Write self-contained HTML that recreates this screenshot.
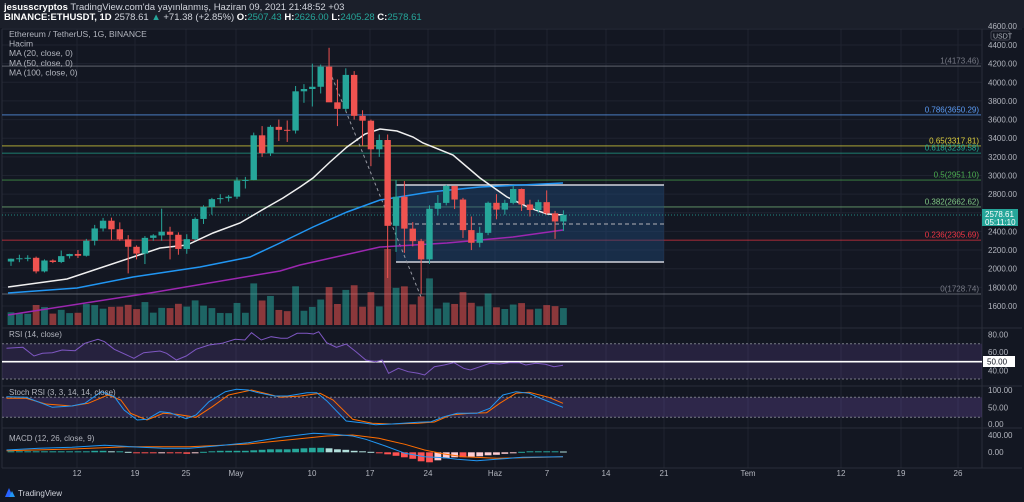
<!DOCTYPE html>
<html><head><meta charset="utf-8">
<style>
html,body{margin:0;padding:0;background:#131722;width:1024px;height:502px;overflow:hidden;font-family:"Liberation Sans",sans-serif;}
svg{display:block}
</style></head>
<body>
<svg id="c" width="1024" height="502" xmlns="http://www.w3.org/2000/svg" font-family="Liberation Sans, sans-serif">
<rect width="1024" height="502" fill="#131722"/>
<rect width="1024" height="28" fill="#1b1f2a"/>
<text x="4" y="10" font-size="9.5" fill="#ffffff"><tspan font-weight="bold">jesusscryptos</tspan><tspan fill="#d1d4dc"> TradingView.com'da yayınlanmış, Haziran 09, 2021 21:48:52 +03</tspan></text>
<text x="4" y="20" font-size="9.5" fill="#ffffff"><tspan font-weight="bold">BINANCE:ETHUSDT, 1D</tspan><tspan fill="#d1d4dc"> 2578.61 </tspan><tspan fill="#26a69a">▲</tspan><tspan fill="#d1d4dc"> +71.38 (+2.85%) </tspan><tspan font-weight="bold">O:</tspan><tspan fill="#26a69a">2507.43 </tspan><tspan font-weight="bold">H:</tspan><tspan fill="#26a69a">2626.00 </tspan><tspan font-weight="bold">L:</tspan><tspan fill="#26a69a">2405.28 </tspan><tspan font-weight="bold">C:</tspan><tspan fill="#26a69a">2578.61</tspan></text>
<g id="g"></g>
</svg>
<script>
var G=document.getElementById('g'),s='';
function Y(p){return 45+(4400-p)*0.09321;}
var X0=11,DX=8.37;
var vx=[77,135,186,236,312,370,428,495,547,606,664,748,841,901,958];
vx.forEach(function(x){s+='<line x1="'+x+'" y1="29" x2="'+x+'" y2="468" stroke="#1f2330" stroke-width="1"/>';});
for(var p=1600;p<=4400;p+=200){var y=Y(p);s+='<line x1="2" y1="'+y+'" x2="982" y2="'+y+'" stroke="#1f2330"/>';}
[29,328,386,428,468].forEach(function(y){s+='<line x1="2" y1="'+y+'" x2="1022" y2="'+y+'" stroke="#2a2e39"/>';});
s+='<line x1="982" y1="29" x2="982" y2="468" stroke="#2a2e39"/>';
s+='<line x1="2" y1="29" x2="2" y2="468" stroke="#2a2e39"/>';
var fib=[[4173.46,'1(4173.46)','#787b86'],[3650.29,'0.786(3650.29)','#5b9cf6'],[3317.81,'0.65(3317.81)','#e0d33c'],[3239.58,'0.618(3239.58)','#22ab94'],[2951.10,'0.5(2951.10)','#4caf50'],[2662.62,'0.382(2662.62)','#81c784'],[2305.69,'0.236(2305.69)','#f23645'],[1728.74,'0(1728.74)','#787b86']];
fib.forEach(function(f){var y=Y(f[0]);s+='<line x1="2" y1="'+y+'" x2="981" y2="'+y+'" stroke="'+f[2]+'" stroke-opacity="0.6" stroke-width="1.2"/>';
s+='<text x="979" y="'+(y-2.5)+'" font-size="8" text-anchor="end" fill="'+f[2]+'">'+f[1]+'</text>';});
s+='<rect x="396" y="185" width="268" height="77" fill="#1e4a78" fill-opacity="0.45"/>';
s+='<line x1="396" y1="185" x2="664" y2="185" stroke="#d1d4dc" stroke-width="1.6"/><line x1="396" y1="262" x2="664" y2="262" stroke="#d1d4dc" stroke-width="1.6"/>';
s+='<line x1="408" y1="224" x2="664" y2="224" stroke="#9598a1" stroke-dasharray="4,3" stroke-width="1.2"/>';
s+='<line x1="332" y1="77" x2="421" y2="297" stroke="#9598a1" stroke-dasharray="3,3" stroke-width="1"/>';
s+='<line x1="2" y1="215" x2="982" y2="215" stroke="#26a69a" stroke-dasharray="1,2" stroke-opacity="0.8"/>';
var D=[[2077,2110,2030,2107],[2107,2150,2070,2112],[2112,2145,2080,2117],[2117,2130,1950,1971],[1971,2100,1960,2088],[2088,2100,2060,2072],[2072,2195,2060,2135],[2135,2160,2110,2158],[2158,2200,2115,2139],[2139,2320,2130,2300],[2300,2470,2250,2432],[2432,2545,2400,2515],[2515,2548,2310,2423],[2423,2497,2300,2315],[2315,2360,1950,2235],[2235,2250,2100,2162],[2162,2350,2050,2331],[2331,2370,2300,2357],[2357,2644,2300,2397],[2397,2450,2100,2364],[2364,2390,2150,2212],[2212,2370,2160,2317],[2317,2550,2300,2534],[2534,2680,2480,2662],[2662,2760,2580,2746],[2746,2800,2700,2757],[2757,2790,2720,2773],[2773,2980,2750,2945],[2945,2985,2860,2952],[2952,3460,2950,3431],[3431,3530,3200,3240],[3240,3540,3210,3522],[3522,3600,3370,3490],[3490,3590,3360,3482],[3482,3960,3450,3903],[3903,3980,3780,3928],[3928,4200,3740,3952],[3952,4190,3880,4168],[4168,4370,3790,3785],[3785,4030,3530,3715],[3715,4150,3690,4079],[4079,4120,3600,3640],[3640,3700,3320,3588],[3588,3600,3100,3281],[3281,3440,3200,3381],[3381,3440,1900,2460],[2460,2950,2180,2772],[2772,2940,2170,2430],[2430,2500,2240,2296],[2296,2320,1730,2100],[2100,2680,2050,2643],[2643,2790,2570,2706],[2706,2900,2680,2888],[2888,2890,2640,2742],[2742,2760,2330,2414],[2414,2560,2200,2278],[2278,2450,2230,2385],[2385,2720,2360,2707],[2707,2800,2530,2634],[2634,2740,2580,2706],[2706,2890,2690,2855],[2855,2860,2620,2689],[2689,2740,2560,2630],[2630,2740,2600,2714],[2714,2840,2580,2594],[2594,2620,2320,2507],[2507,2626,2405,2578.61]];
var vb=325;
D.forEach(function(d,i){var x=X0+i*DX,up=d[3]>=d[0];var h=Math.min(76,10+Math.abs(d[3]-d[0])*0.05+(d[1]-d[2])*0.015);
s+='<rect x="'+(x-3.4)+'" y="'+(vb-h)+'" width="6.8" height="'+h+'" fill="'+(up?'#26a69a':'#ef5350')+'" fill-opacity="0.55"/>';});
function pl(pts,c,w){s+='<polyline fill="none" stroke="'+c+'" stroke-width="'+(w||1.5)+'" points="'+pts.map(function(p){return p[0]+','+p[1]}).join(' ')+'"/>';}
pl([[8,315],[150,293],[280,271],[300,265],[380,247],[447,243],[513,237],[563,230]],'#9c27b0',1.5);
pl([[8,293],[77,288],[133,277],[200,267],[250,257],[280,243],[313,227],[347,212],[380,200],[430,192],[480,187],[563,183]],'#2196f3',1.5);
pl([[8,287],[67,279],[133,257],[160,248],[187,245],[213,233],[240,223],[262,210],[283,198],[300,187],[313,178],[330,162],[347,147],[365,134],[380,129],[397,131],[413,137],[423,143],[453,155],[480,178],[507,197],[530,208],[547,214],[563,215]],'#f0f0f0',1.5);
D.forEach(function(d,i){var x=X0+i*DX,up=d[3]>=d[0],c=up?'#26a69a':'#ef5350';
var t=Y(Math.max(d[0],d[3])),b=Y(Math.min(d[0],d[3]));if(b-t<1)b=t+1;
s+='<line x1="'+x+'" y1="'+Y(d[1])+'" x2="'+x+'" y2="'+Y(d[2])+'" stroke="'+c+'" stroke-width="1"/>';
s+='<rect x="'+(x-3.2)+'" y="'+t+'" width="6.4" height="'+(b-t)+'" fill="'+c+'"/>';});
for(var p=1600;p<=4400;p+=200){s+='<text x="988" y="'+(Y(p)+3)+'" font-size="8" fill="#b2b5be">'+p+'.00</text>';}
s+='<text x="988" y="29" font-size="8" fill="#b2b5be">4600.00</text>';
s+='<rect x="991" y="31" width="19" height="9" rx="2" fill="#131722" stroke="#434651"/><text x="993" y="38.5" font-size="7" fill="#b2b5be">USDT</text>';
s+='<rect x="982" y="209" width="36" height="17" fill="#26a69a"/><text x="985" y="217" font-size="8" fill="#fff">2578.61</text><text x="985" y="225" font-size="8" fill="#fff">05:11:10</text>';
var lg=['Ethereum / TetherUS, 1G, BINANCE','Hacim','MA (20, close, 0)','MA (50, close, 0)','MA (100, close, 0)'];
lg.forEach(function(t,i){s+='<text x="9" y="'+(37+i*9.6)+'" font-size="8.5" fill="#b2b5be">'+t+'</text>';});
s+='<rect x="2" y="343.7" width="980" height="35.3" fill="#7e57c2" fill-opacity="0.18"/>';
s+='<line x1="2" y1="343.7" x2="982" y2="343.7" stroke="#787b86" stroke-dasharray="2,2"/><line x1="2" y1="379" x2="982" y2="379" stroke="#787b86" stroke-dasharray="2,2"/>';
s+='<line x1="2" y1="361.7" x2="982" y2="361.7" stroke="#ffffff" stroke-width="1.6"/>';
function zp(a){return a.map(function(p){return [(p[0]/1.531).toFixed(1),(p[1]/3+320).toFixed(1)];});}
pl(zp([[10,85],[35,82],[52,108],[65,100],[80,98],[95,90],[115,92],[130,70],[150,58],[160,65],[175,88],[205,115],[220,98],[245,93],[255,100],[270,120],[285,108],[300,88],[320,75],[340,70],[360,58],[375,60],[385,38],[400,60],[415,50],[430,55],[440,55],[455,40],[470,40],[480,42],[488,35],[500,68],[515,82],[530,72],[545,95],[560,120],[575,125],[585,120],[595,160],[610,145],[625,155],[640,160],[650,165],[665,140],[680,135],[695,128],[710,145],[720,150],[735,140],[750,130],[765,132],[780,128],[795,128],[805,135],[820,130],[835,133],[848,140],[862,136]]),'#7e57c2',1);
s+='<text x="9" y="337" font-size="8" fill="#b2b5be">RSI (14, close)</text>';
[[80,337.5],[60,355],[40,373.5]].forEach(function(a){s+='<text x="988" y="'+a[1]+'" font-size="8" fill="#b2b5be">'+a[0]+'.00</text>';});
s+='<rect x="983" y="356" width="32" height="11" fill="#fff"/><text x="987" y="364.5" font-size="8" fill="#131722">50.00</text>';
s+='<rect x="2" y="397.3" width="980" height="20" fill="#7e57c2" fill-opacity="0.25"/>';
s+='<line x1="2" y1="397.3" x2="982" y2="397.3" stroke="#787b86" stroke-dasharray="2,2"/><line x1="2" y1="417.3" x2="982" y2="417.3" stroke="#787b86" stroke-dasharray="2,2"/>';
pl(zp([[10,235],[40,235],[70,252],[110,258],[135,250],[165,225],[185,240],[200,280],[225,300],[250,280],[270,283],[300,292],[325,260],[350,225],[385,210],[410,222],[430,232],[460,228],[490,220],[510,240],[540,298],[570,310],[600,312],[640,310],[665,306],[690,285],[720,280],[745,278],[765,250],[790,220],[810,217],[840,232],[862,250]]),'#ff6d00',1);
pl(zp([[10,230],[40,232],[80,262],[110,258],[130,250],[155,215],[175,230],[190,270],[210,300],[225,298],[245,275],[260,278],[285,296],[300,285],[320,245],[345,215],[362,208],[380,210],[395,218],[420,228],[440,228],[470,218],[485,218],[500,242],[530,303],[560,310],[575,314],[600,312],[640,307],[660,305],[680,290],[700,280],[730,280],[750,265],[770,225],[790,215],[810,220],[830,237],[862,262]]),'#2196f3',1);
s+='<text x="9" y="395" font-size="8" fill="#b2b5be">Stoch RSI (3, 3, 14, 14, close)</text>';
[['100.00',393],['50.00',410.3],['0.00',427]].forEach(function(a){s+='<text x="988" y="'+a[1]+'" font-size="8" fill="#b2b5be">'+a[0]+'</text>';});
var H=[1,1,1,1,1,1,1,1,1,1,1.5,1.5,1,1,0.5,-0.5,-1,-1,-0.5,-0.5,-1,-1.5,-1,0.5,1,1.5,1.5,1.5,1.5,2,2.5,3,3,3,3.5,4,4.5,4.5,4,3,2.5,1.5,1,0.5,-0.5,-2,-3.5,-5,-6.5,-9,-10,-8,-6,-5,-5,-4.5,-4,-3,-2.5,-1.5,-1,0.5,1,1,1,1,0.8];
var z=452.3;
H.forEach(function(h,i){var x=X0+i*DX,pr=i?H[i-1]:h,c;
if(h>=0)c=(h>=pr)?'#26a69a':'#b2dfdb';else c=(h<=pr)?'#ff5252':'#ffcdd2';
var y=h>=0?z-h:z;s+='<rect x="'+(x-3.4)+'" y="'+y+'" width="6.8" height="'+Math.max(1,Math.abs(h))+'" fill="'+c+'"/>';});
pl(zp([[10,392],[110,387],[200,380],[290,380],[380,372],[440,360],[500,348],[540,345],[580,355],[620,373],[650,390],[680,402],[710,410],[760,415],[800,413],[862,410]]),'#ff6d00',1);
pl(zp([[10,390],[60,385],[110,382],[160,376],[200,380],[250,385],[290,385],[330,378],[380,368],[430,352],[480,340],[510,343],[540,348],[560,358],[590,378],[620,400],[650,410],[680,413],[700,418],[730,422],[760,418],[800,412],[862,410]]),'#2196f3',1);
s+='<text x="9" y="441" font-size="8" fill="#b2b5be">MACD (12, 26, close, 9)</text>';
s+='<text x="988" y="438" font-size="8" fill="#b2b5be">400.00</text><text x="988" y="455" font-size="8" fill="#b2b5be">0.00</text>';
var dl=['12','19','25','May','10','17','24','Haz','7','14','21','Tem','12','19','26'];
dl.forEach(function(t,i){s+='<text x="'+vx[i]+'" y="476" font-size="8" text-anchor="middle" fill="#b2b5be">'+t+'</text>';});
s+='<path d="M5 497 L9 488 L13 497 Z" fill="#2962ff"/><path d="M9 497 L12 491 L15 497 Z" fill="#2196f3"/>';
s+='<text x="18" y="496" font-size="8" fill="#d1d4dc">TradingView</text>';
G.innerHTML=s;
</script>
</body></html>
